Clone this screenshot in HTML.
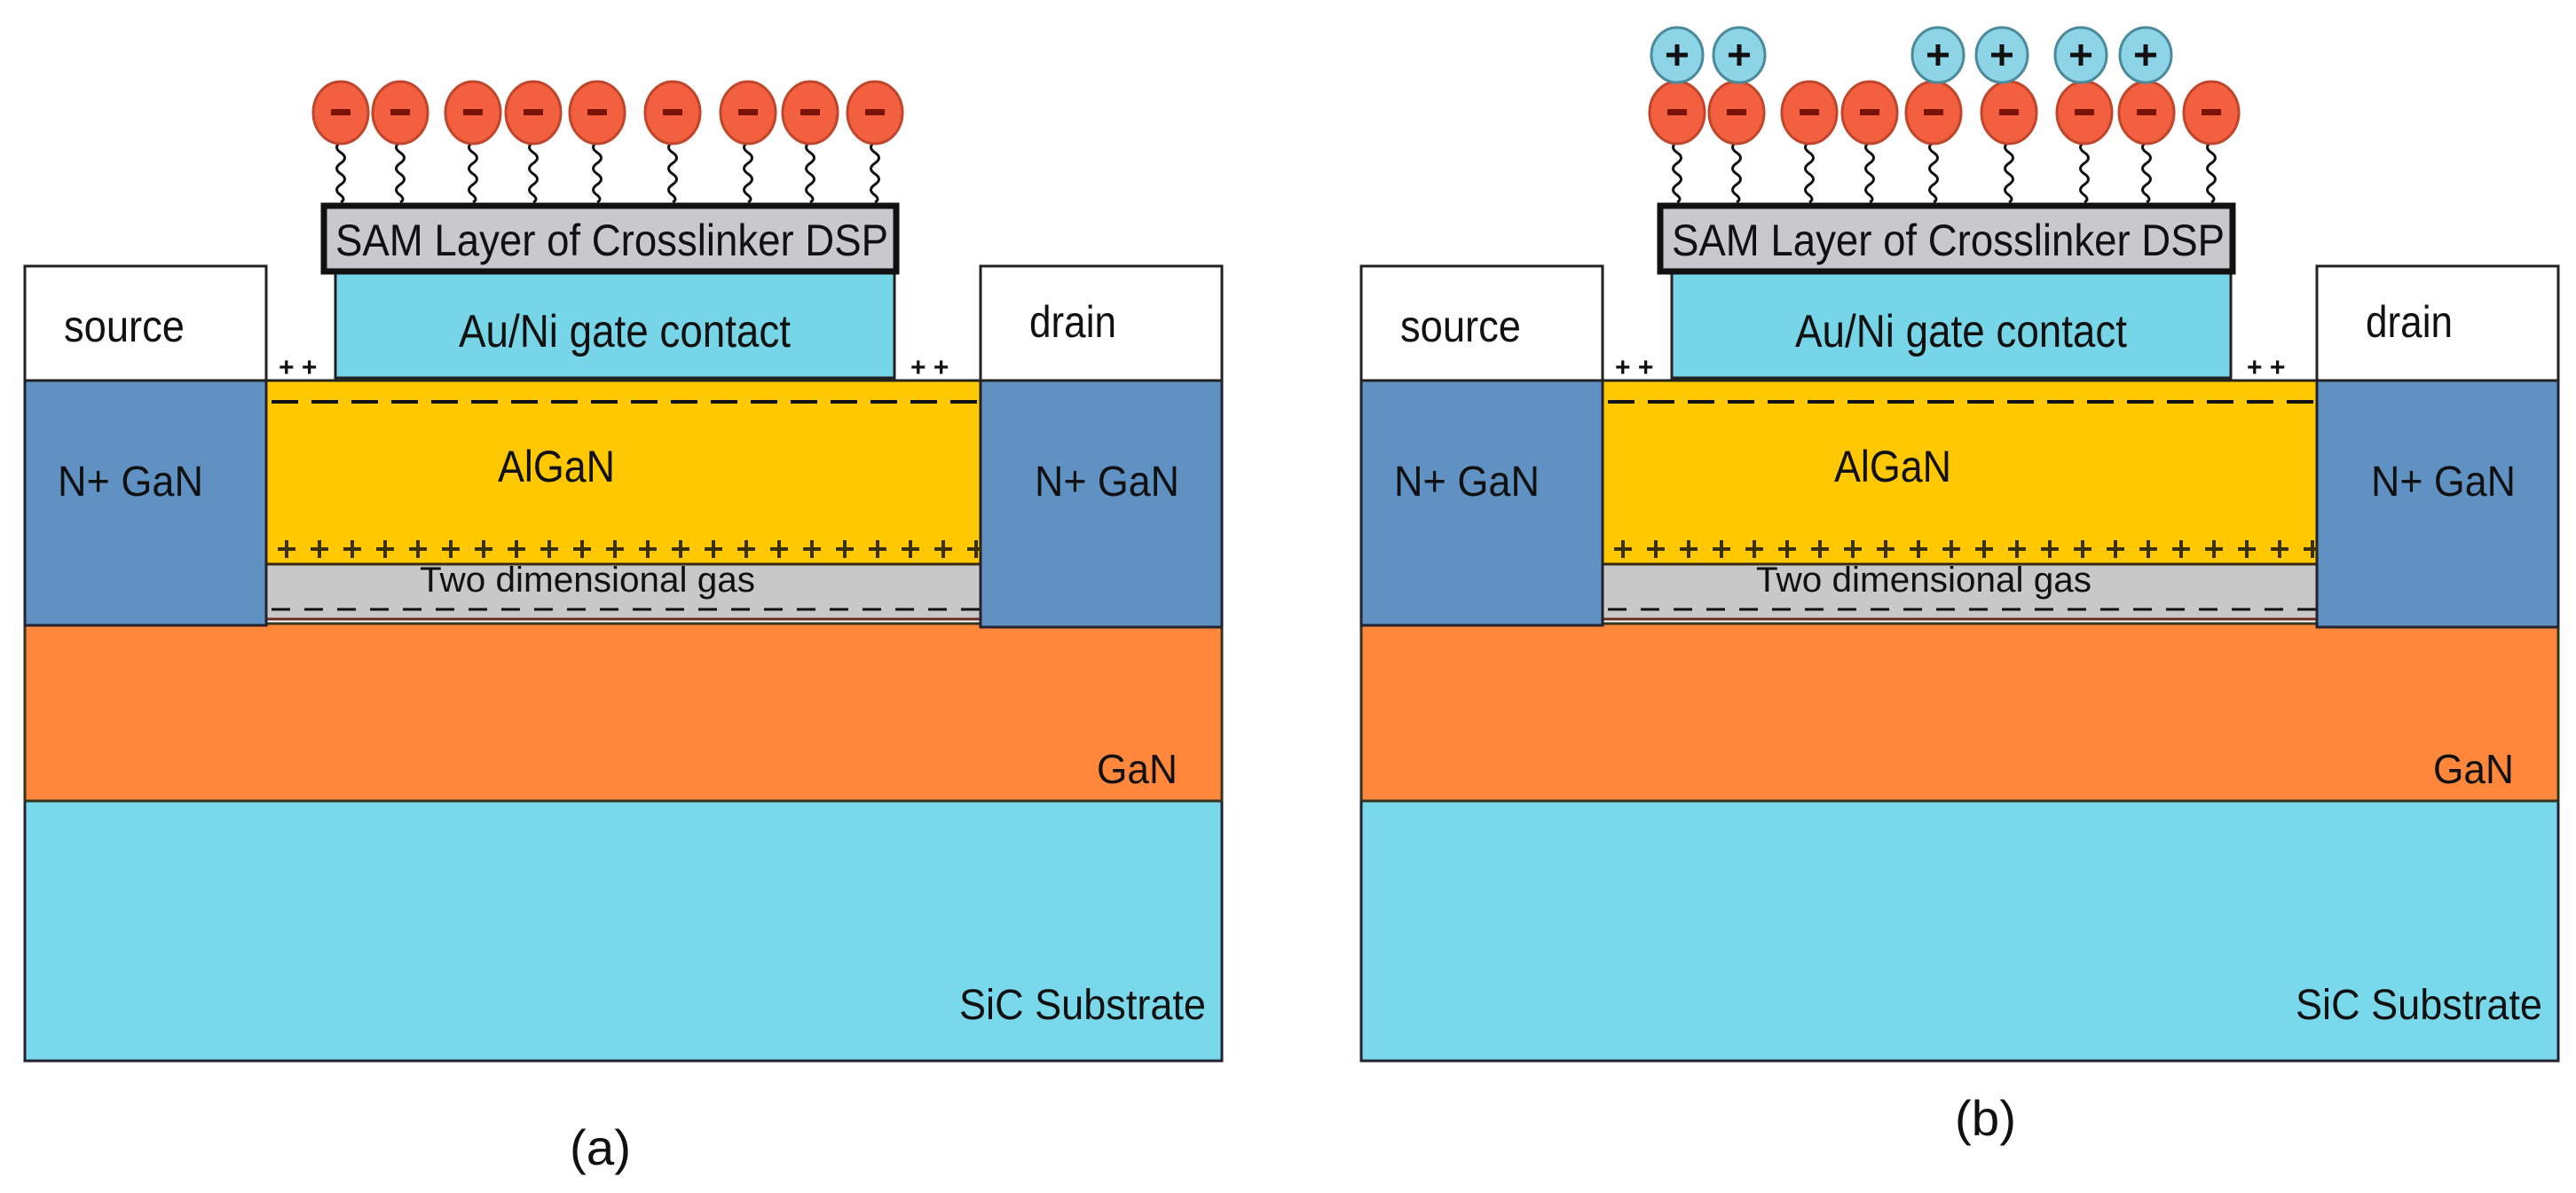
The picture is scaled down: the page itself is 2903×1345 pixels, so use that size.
<!DOCTYPE html>
<html><head><meta charset="utf-8"><style>
html,body{margin:0;padding:0;background:#fff;}
svg{display:block;}
text{font-family:"Liberation Sans",Arial,sans-serif;fill:#111;}
</style></head><body>
<svg width="2903" height="1345" viewBox="0 0 2903 1345" xmlns="http://www.w3.org/2000/svg">
<defs>
<g id="panel">
  <rect x="28" y="903" width="1349" height="293" fill="#79d8ea" stroke="#223" stroke-width="3"/>
  <rect x="28" y="703" width="1349" height="200" fill="#ff873c" stroke="#332" stroke-width="3"/>
  <rect x="300" y="636" width="805" height="62" fill="#c8c8c8"/>
  <line x1="300" y1="698" x2="1105" y2="698" stroke="#6a2a1a" stroke-width="3"/>
  <rect x="300" y="429" width="805" height="207" fill="#ffc800"/>
  <line x1="300" y1="636" x2="1105" y2="636" stroke="#3a2a10" stroke-width="3"/>
  <line x1="306" y1="453" x2="1105" y2="453" stroke="#111" stroke-width="4" stroke-dasharray="30 15"/>
  <line x1="306" y1="687" x2="1105" y2="687" stroke="#111" stroke-width="3" stroke-dasharray="21 16"/>
  <rect x="28" y="429" width="272" height="276" fill="#5f91c2" stroke="#223" stroke-width="3"/>
  <rect x="1105" y="429" width="272" height="278" fill="#5f91c2" stroke="#223" stroke-width="3"/>
  <rect x="28" y="300" width="272" height="129" fill="#fff" stroke="#222" stroke-width="3"/>
  <rect x="1105" y="300" width="272" height="129" fill="#fff" stroke="#222" stroke-width="3"/>
  <rect x="378" y="308" width="630" height="118" fill="#76d6e8" stroke="#222" stroke-width="3"/>
  <line x1="300" y1="429" x2="1105" y2="429" stroke="#222" stroke-width="3"/>
  <rect x="365" y="232" width="645" height="74" fill="#c9c9cd" stroke="#111" stroke-width="7"/>
  <text x="378" y="288" font-size="50" textLength="623" lengthAdjust="spacingAndGlyphs">SAM Layer of Crosslinker DSP</text>
  <text x="72" y="385" font-size="50" textLength="136" lengthAdjust="spacingAndGlyphs">source</text>
  <text x="1160" y="380" font-size="50" textLength="98" lengthAdjust="spacingAndGlyphs">drain</text>
  <text x="517" y="391" font-size="52" textLength="374" lengthAdjust="spacingAndGlyphs">Au/Ni gate contact</text>
  <text x="65" y="559" font-size="48" textLength="164" lengthAdjust="spacingAndGlyphs">N+ GaN</text>
  <text x="1166" y="559" font-size="48" textLength="163" lengthAdjust="spacingAndGlyphs">N+ GaN</text>
  <text x="561" y="543" font-size="50" textLength="132" lengthAdjust="spacingAndGlyphs">AlGaN</text>
  <text x="473" y="667" font-size="40" textLength="378" lengthAdjust="spacingAndGlyphs">Two dimensional gas</text>
  <text x="1236" y="883" font-size="46" textLength="91" lengthAdjust="spacingAndGlyphs">GaN</text>
  <text x="1081" y="1149" font-size="48" textLength="278" lengthAdjust="spacingAndGlyphs">SiC Substrate</text>
  <text x="314" y="424" font-size="30" font-weight="bold" fill="#555">+ +</text>
  <text x="1026" y="424" font-size="30" font-weight="bold" fill="#555">+ +</text>
  <g stroke="#3a3000" stroke-width="4">
    <path d="M313 619h20M323 609v20 M350 619h20M360 609v20 M387 619h20M397 609v20 M424 619h20M434 609v20 M461 619h20M471 609v20 M498 619h20M508 609v20 M535 619h20M545 609v20 M572 619h20M582 609v20 M609 619h20M619 609v20 M646 619h20M656 609v20 M683 619h20M693 609v20 M720 619h20M730 609v20 M757 619h20M767 609v20 M794 619h20M804 609v20 M831 619h20M841 609v20 M868 619h20M878 609v20 M905 619h20M915 609v20 M942 619h20M952 609v20 M979 619h20M989 609v20 M1016 619h20M1026 609v20 M1053 619h20M1063 609v20 M1090 619h16M1100 609v20"/>
  </g>
</g>
<g id="tail"><path d="M0 0 q-9 6 0 12 q9 6 0 12 q-9 6 0 12 q9 6 0 12 q-9 6 0 12 q6 5 0 8" fill="none" stroke="#111" stroke-width="3"/></g>
<g id="neg"><use href="#tail" y="160"/><ellipse cx="0" cy="127" rx="31" ry="35" fill="#f2603f" stroke="#c0452a" stroke-width="3"/><rect x="-11" y="123" width="22" height="7" fill="#7a1208"/></g>
<g id="pos"><ellipse cx="0" cy="62" rx="29" ry="31" fill="#8dd4e6" stroke="#4a8a9a" stroke-width="3"/><path d="M-12 62h24M0 50v24" stroke="#111" stroke-width="5"/></g>
</defs>
<use href="#panel"/>
<use href="#panel" x="1506"/>
<use href="#neg" x="384"/><use href="#neg" x="451"/><use href="#neg" x="533"/><use href="#neg" x="601"/><use href="#neg" x="673"/><use href="#neg" x="758"/><use href="#neg" x="843"/><use href="#neg" x="913"/><use href="#neg" x="986"/>
<use href="#neg" x="1890"/><use href="#neg" x="1957"/><use href="#neg" x="2039"/><use href="#neg" x="2107"/><use href="#neg" x="2179"/><use href="#neg" x="2264"/><use href="#neg" x="2349"/><use href="#neg" x="2419"/><use href="#neg" x="2492"/>
<use href="#pos" x="1890"/><use href="#pos" x="1960"/><use href="#pos" x="2184"/><use href="#pos" x="2256"/><use href="#pos" x="2345"/><use href="#pos" x="2418"/>
<text x="642" y="1313" font-size="56" textLength="69" lengthAdjust="spacingAndGlyphs">(a)</text>
<text x="2203" y="1280" font-size="56" textLength="69" lengthAdjust="spacingAndGlyphs">(b)</text>
</svg>
</body></html>
